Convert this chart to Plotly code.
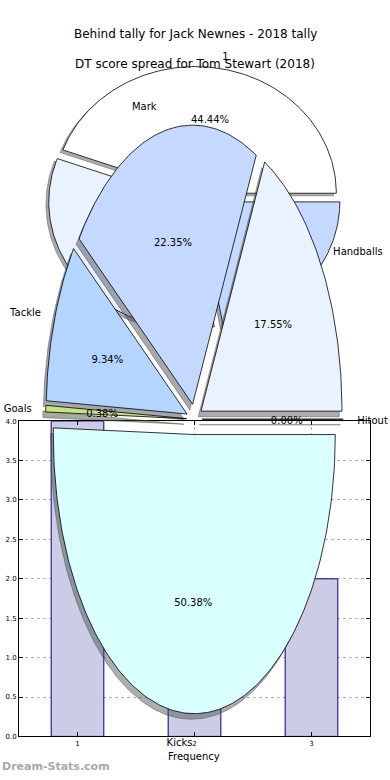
import math
import plotly.graph_objects as go

# ---------------- data ----------------
# Behind tally (bar chart + background pie)
behind_counts = [1, 2, 3]
behind_freq = [4, 3, 2]
behind_labels = ["1", "2", "3"]

# DT score spread (front pie), counter-clockwise from 0 deg
dt_labels = ["Handballs", "Mark", "Tackle", "Goals", "Kicks", "Hitout"]
dt_pcts = [17.55, 22.35, 9.34, 0.38, 50.38, 0.00]

title_bar = "Behind tally for Jack Newnes - 2018 tally"
title_pie = "DT score spread for Tom Stewart (2018)"
xlabel = "Frequency"
watermark = "Dream-Stats.com"

# ---------------- styles / geometry ----------------
W, H = 390, 780
FONT = "DejaVu Sans"
dt_colors = ["#eaf2ff", "#c5d8ff", "#b3d5ff", "#c8e08a", "#d9ffff", "#ffffff"]
bt_colors = ["#ffffff", "#eaf2ff", "#c5d8ff"]
FRONT = dict(cx=194.4, cy=419.5, rx=141.0, ry=282.0, explode=0.055)
BACK = dict(cx=194.3, cy=196.5, rx=141.0, ry=128.0, explode=0.042)
BAR_COLOR = "#cccce6"
BAR_EDGE = "#000080"
LABEL_DY = 2.0  # matplotlib-style vertical centring of labels


def shadow_color(hexcol):
    h = hexcol.lstrip("#")
    r, g, b = (int(h[i:i + 2], 16) for i in (0, 2, 4))
    return "rgba(%d,%d,%d,0.45)" % (r * 0.3, g * 0.3, b * 0.3)


def pie_geometry(values, g):
    total = float(sum(values))
    out = []
    a0 = 0.0
    for v in values:
        a1 = a0 + 360.0 * v / total
        mid = math.radians((a0 + a1) / 2.0)
        ex = g["cx"] + g["explode"] * g["rx"] * math.cos(mid)
        ey = g["cy"] - g["explode"] * g["ry"] * math.sin(mid)
        n = max(2, int(abs(a1 - a0)) + 1)
        xs, ys = [ex], [ey]
        for i in range(n + 1):
            t = math.radians(a0 + (a1 - a0) * i / n)
            xs.append(ex + g["rx"] * math.cos(t))
            ys.append(ey - g["ry"] * math.sin(t))
        xs.append(ex)
        ys.append(ey)
        out.append(dict(xs=xs, ys=ys, ex=ex, ey=ey, mid=mid, pct=100.0 * v / total))
        a0 = a1
    return out


def add_pie(fig, values, labels, colors, g):
    geo = pie_geometry(values, g)
    dx, dy = -0.02 * g["rx"], 0.02 * g["ry"]
    # shadows first (beneath all wedges)
    for w, c in zip(geo, colors):
        sc = shadow_color(c)
        fig.add_trace(go.Scatter(
            x=[x + dx for x in w["xs"]], y=[y + dy for y in w["ys"]],
            mode="lines", fill="toself", fillcolor=sc,
            line=dict(color=sc, width=1), hoverinfo="skip",
            xaxis="x2", yaxis="y2"))
    for w, c in zip(geo, colors):
        fig.add_trace(go.Scatter(
            x=w["xs"], y=w["ys"], mode="lines", fill="toself", fillcolor=c,
            line=dict(color="black", width=0.8), hoverinfo="skip",
            xaxis="x2", yaxis="y2"))
    # labels
    lx, ly, lpos, px, py, ptxt = [], [], [], [], [], []
    for w, lab in zip(geo, labels):
        cm, sm = math.cos(w["mid"]), math.sin(w["mid"])
        lx.append(w["ex"] + 1.1 * g["rx"] * cm)
        ly.append(w["ey"] - 1.1 * g["ry"] * sm + LABEL_DY)
        lpos.append("middle right" if cm > 0 else "middle left")
        px.append(w["ex"] + 0.6 * g["rx"] * cm)
        py.append(w["ey"] - 0.6 * g["ry"] * sm + LABEL_DY)
        ptxt.append("%.2f%%" % w["pct"])
    fig.add_trace(go.Scatter(x=lx, y=ly, text=labels, mode="text",
                             textposition=lpos, hoverinfo="skip",
                             textfont=dict(family=FONT, size=10, color="black"),
                             xaxis="x2", yaxis="y2"))
    fig.add_trace(go.Scatter(x=px, y=py, text=ptxt, mode="text",
                             textposition="middle center", hoverinfo="skip",
                             textfont=dict(family=FONT, size=10, color="black"),
                             xaxis="x2", yaxis="y2"))


fig = go.Figure()

# bar chart
fig.add_trace(go.Bar(x=behind_counts, y=behind_freq, width=0.45,
                     marker=dict(color=BAR_COLOR, line=dict(color=BAR_EDGE, width=1)),
                     hoverinfo="skip", xaxis="x", yaxis="y"))

# background pie (behind tally) then front pie (DT score spread)
add_pie(fig, behind_freq, behind_labels, bt_colors, BACK)
add_pie(fig, dt_pcts, dt_labels, dt_colors, FRONT)

axl, axr, axt, axb = 19.0, 370.0, 421.5, 740.0
fig.update_layout(
    width=W, height=H, margin=dict(l=0, r=0, t=0, b=0),
    paper_bgcolor="white", plot_bgcolor="rgba(0,0,0,0)",
    showlegend=False,
    font=dict(family=FONT, color="black"),
    xaxis=dict(domain=[axl / W, axr / W], range=[0.5, 3.5],
               tickvals=behind_counts, ticktext=behind_labels,
               ticks="inside", ticklen=4, tickcolor="black",
               showline=True, linecolor="black", linewidth=1, mirror="ticks",
               showgrid=True, gridcolor="#b0b0b0", griddash="dot", gridwidth=1,
               zeroline=False, tickfont=dict(size=7, family=FONT, color="black")),
    yaxis=dict(domain=[1 - axb / H, 1 - axt / H], range=[0, 4], dtick=0.5,
               tickformat=".1f", ticks="inside", ticklen=4, tickcolor="black",
               showline=True, linecolor="black", linewidth=1, mirror="ticks",
               showgrid=True, gridcolor="#b0b0b0", griddash="dot", gridwidth=1,
               zeroline=False, tickfont=dict(size=7, family=FONT, color="black")),
    xaxis2=dict(domain=[0, 1], range=[0, W], visible=False, anchor="y2",
                fixedrange=True),
    yaxis2=dict(domain=[0, 1], range=[H, 0], visible=False, anchor="x2",
                fixedrange=True),
)

fig.add_annotation(x=195, y=30, xref="x2", yref="y2", text=title_bar,
                   showarrow=False, font=dict(size=12, family=FONT, color="black"))
fig.add_annotation(x=195, y=61, xref="x2", yref="y2", text=title_pie,
                   showarrow=False, font=dict(size=12, family=FONT, color="black"))
fig.add_annotation(x=194, y=760, xref="x2", yref="y2", text=xlabel,
                   showarrow=False, font=dict(size=10, family=FONT, color="black"))
fig.add_annotation(x=0, y=770, xref="x2", yref="y2", text="<b>" + watermark + "</b>",
                   xanchor="left", showarrow=False,
                   font=dict(size=11, family=FONT, color="#a8a8a8"))

fig.write_html("out.html",
               config={"displayModeBar": False},
               post_script="document.body.style.margin='0';"
                           "document.body.style.overflow='hidden';")
